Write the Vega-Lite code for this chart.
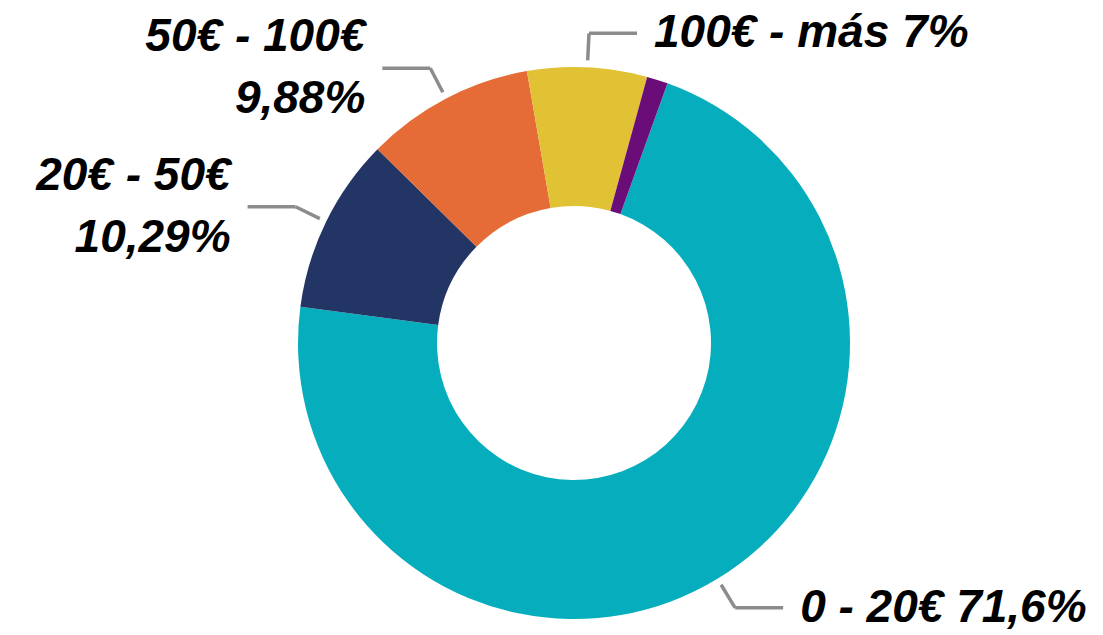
{
  "$schema": "https://vega.github.io/schema/vega-lite/v6.json",
  "autosize": "none",
  "width": 1000,
  "height": 580,
  "padding": {"left": 74, "top": 53, "right": 29, "bottom": 2},
  "background": "white",
  "config": {"view": {"stroke": null}},
  "data": {
    "values": [
      {"rango": "0 - 20€", "valor": 71.6, "orden": 0, "etiqueta": "0 - 20€ 71,6%"},
      {"rango": "20€ - 50€", "valor": 10.29, "orden": 1, "etiqueta": "20€ - 50€\n10,29%"},
      {"rango": "50€ - 100€", "valor": 9.88, "orden": 2, "etiqueta": "50€ - 100€\n9,88%"},
      {"rango": "100€ - más", "valor": 7.0, "orden": 3, "etiqueta": "100€ - más 7%"},
      {"rango": "Otros", "valor": 1.23, "orden": 4, "etiqueta": ""}
    ]
  },
  "transform": [
    {"window": [{"op": "sum", "field": "valor", "as": "acum"}], "sort": [{"field": "orden"}], "frame": [null, 0]},
    {"calculate": "0.3456 + 2*PI*(datum.acum - datum.valor/2)/100", "as": "ang"},
    {"calculate": "283*sin(datum.ang)", "as": "x1"},
    {"calculate": "-283*cos(datum.ang)", "as": "y1"},
    {"calculate": "310*sin(datum.ang)", "as": "x2"},
    {"calculate": "-310*cos(datum.ang)", "as": "y2"},
    {"calculate": "datum.x2 + (datum.x2 >= 0 ? 48 : -48)", "as": "x3"},
    {"calculate": "datum.x3 + (datum.x2 >= 0 ? 17 : -17)", "as": "xt"}
  ],
  "layer": [
    {
      "mark": {"type": "arc", "outerRadius": 276, "innerRadius": 137, "stroke": null},
      "encoding": {
        "theta": {"field": "valor", "type": "quantitative", "stack": true, "scale": {"range": [0.3456, 6.6288]}},
        "order": {"field": "orden", "type": "quantitative"},
        "color": {
          "field": "rango", "type": "nominal", "legend": null,
          "scale": {
            "domain": ["0 - 20€", "20€ - 50€", "50€ - 100€", "100€ - más", "Otros"],
            "range": ["#06AEBD", "#233565", "#E56C37", "#E1C234", "#6B0D79"]
          }
        }
      }
    },
    {
      "transform": [{"filter": "datum.etiqueta != ''"}],
      "mark": {"type": "rule", "color": "#8C8C8C", "strokeWidth": 3.5},
      "encoding": {
        "x": {"field": "x1", "type": "quantitative", "axis": null, "scale": {"domain": [-500, 500], "nice": false, "zero": false}},
        "y": {"field": "y1", "type": "quantitative", "axis": null, "scale": {"domain": [-290, 290], "nice": false, "zero": false, "reverse": true}},
        "x2": {"field": "x2"},
        "y2": {"field": "y2"}
      }
    },
    {
      "transform": [{"filter": "datum.etiqueta != ''"}],
      "mark": {"type": "rule", "color": "#8C8C8C", "strokeWidth": 3.5},
      "encoding": {
        "x": {"field": "x2", "type": "quantitative"},
        "y": {"field": "y2", "type": "quantitative"},
        "x2": {"field": "x3"}
      }
    },
    {
      "transform": [{"filter": "datum.etiqueta != '' && datum.x2 >= 0"}],
      "mark": {"type": "text", "align": "left", "baseline": "middle", "font": "Liberation Sans", "fontSize": 46, "fontWeight": "bold", "fontStyle": "italic", "lineBreak": "\n", "lineHeight": 62, "color": "#000000"},
      "encoding": {
        "x": {"field": "xt", "type": "quantitative"},
        "y": {"field": "y2", "type": "quantitative"},
        "text": {"field": "etiqueta"}
      }
    },
    {
      "transform": [{"filter": "datum.etiqueta != '' && datum.x2 < 0"}],
      "mark": {"type": "text", "align": "right", "baseline": "middle", "dy": -31, "font": "Liberation Sans", "fontSize": 46, "fontWeight": "bold", "fontStyle": "italic", "lineBreak": "\n", "lineHeight": 62, "color": "#000000"},
      "encoding": {
        "x": {"field": "xt", "type": "quantitative"},
        "y": {"field": "y2", "type": "quantitative"},
        "text": {"field": "etiqueta"}
      }
    }
  ]
}
